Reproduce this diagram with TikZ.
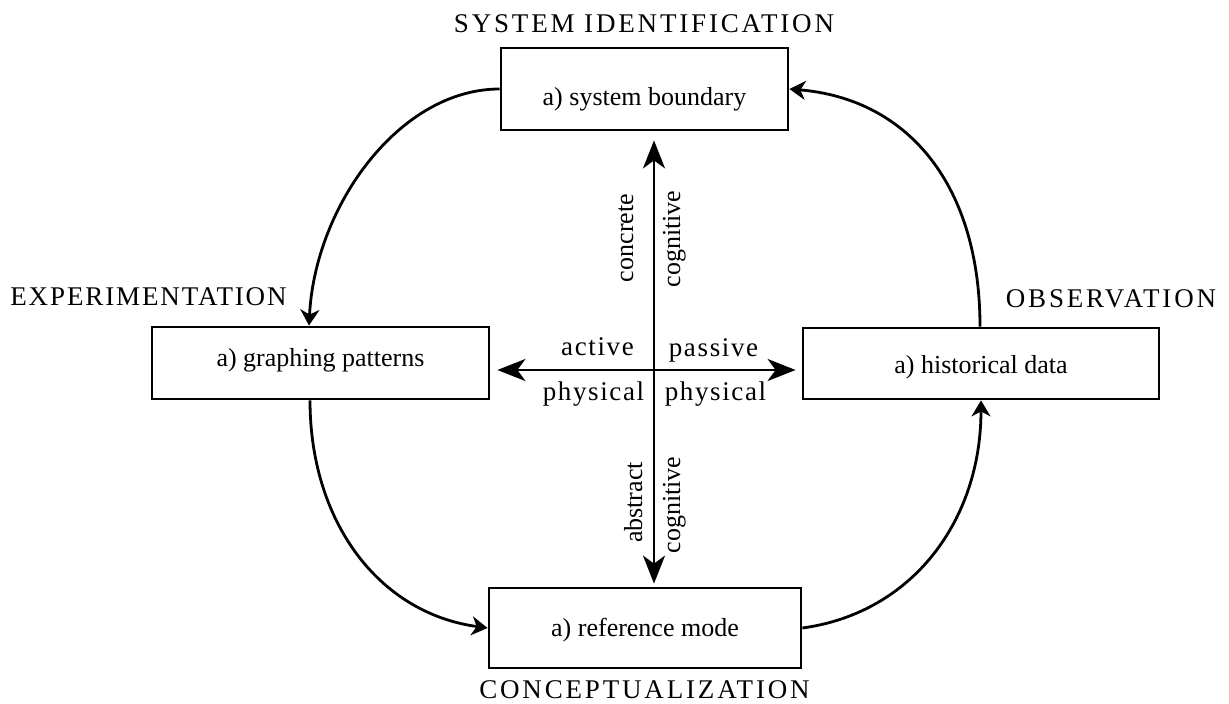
\documentclass[tikz,border=0pt]{standalone}
\usepackage{fontspec}
\setmainfont{Liberation Serif}
\newfontfamily\headfont[LetterSpace=7]{Liberation Serif}
\newfontfamily\headwidefont[LetterSpace=10.5]{Liberation Serif}
\newfontfamily\axisfont[LetterSpace=6]{Liberation Serif}
\usetikzlibrary{arrows.meta,calc}
\begin{document}
\begin{tikzpicture}[x=1pt,y=-1pt,
  box/.style={draw,line width=2.8pt,inner sep=0pt,font=\fontsize{26}{30}\selectfont,text depth=0pt},
  head/.style={font=\headfont\fontsize{27}{30}\selectfont,anchor=base,inner sep=0pt},
  headwide/.style={font=\headwidefont\fontsize{27}{30}\selectfont,anchor=base,inner sep=0pt},
  axlab/.style={font=\axisfont\fontsize{27}{30}\selectfont,anchor=base,inner sep=0pt},
  vlab/.style={font=\fontsize{26}{30}\selectfont,anchor=base,inner sep=0pt,rotate=90},
  flow/.style={line width=2.8pt,-{Stealth[length=16pt,width=19pt,inset=5pt]}},
  cross/.style={line width=2.8pt,{Stealth[length=28pt,width=22pt,inset=8pt]}-{Stealth[length=28pt,width=22pt,inset=8pt]}}]
\useasboundingbox (0,0) rectangle (1229,704);

% boxes
\node[box,minimum width=287pt,minimum height=82pt,text height=32pt] (sys) at (644.5,89) {a) system boundary};
\node[box,minimum width=337pt,minimum height=72pt,text height=6pt] (exp) at (320.5,363) {a) graphing patterns};
\node[box,minimum width=356pt,minimum height=71pt,text height=20pt] (obs) at (981,363.5) {a) historical data};
\node[box,minimum width=312pt,minimum height=80pt,text height=16pt] (con) at (645,628) {a) reference mode};

% headings
\node[headwide] (hsys) at (644,32) {SYSTEM IDENTIFICATION};
\node[head] (hexp) at (148.5,305) {EXPERIMENTATION};
\node[headwide] (hobs) at (1111,307) {OBSERVATION};
\node[headwide] (hcon) at (644.5,698) {CONCEPTUALIZATION};

% cross
\coordinate (c) at (654,370);
\draw[cross,shorten <=7pt,shorten >=6pt] (exp.east |- c) -- (obs.west |- c);
\draw[cross,shorten <=9pt,shorten >=3pt] (sys.south -| c) -- (con.north -| c);

% axis labels
\node[axlab] (lact) at (597.5,355) {active};
\node[axlab] (lpas) at (713.5,356) {passive};
\node[axlab] (lphl) at (593.5,400) {physical};
\node[axlab] (lphr) at (715.5,400) {physical};
\node[vlab] (lcon) at (633,238) {concrete};
\node[vlab] (lcog1) at (680,239) {cognitive};
\node[vlab] (labs) at (642,502.5) {abstract};
\node[vlab] (lcog2) at (680,505) {cognitive};

% cycle
\draw[flow] (sys.west) .. controls +(-100,0) and +(6,-120) .. ([xshift=-11.5pt]exp.north);
\draw[flow] ([xshift=-10.5pt]exp.south) .. controls +(0,120) and +(-110,-15) .. (con.west);
\draw[flow] (con.east) .. controls +(110,-15) and +(0,120) .. (obs.south);
\draw[flow] ([xshift=-1pt]obs.north) .. controls +(0,-140) and +(120,10) .. (sys.east);
\end{tikzpicture}
\end{document}
